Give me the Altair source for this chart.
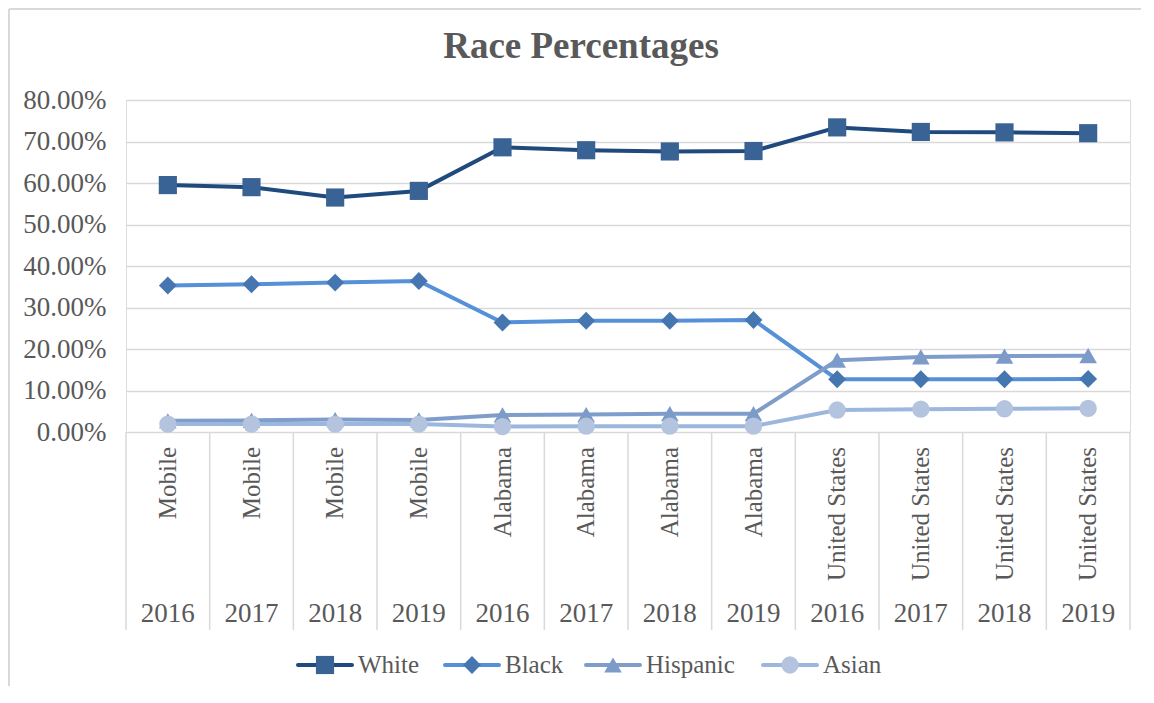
import altair as alt
import pandas as pd

# ---- data ----
locations = ["Mobile"] * 4 + ["Alabama"] * 4 + ["United States"] * 4
years = ["2016", "2017", "2018", "2019"] * 3
series_names = ["White", "Black", "Hispanic", "Asian"]
white = [59.5, 59.0, 56.5, 58.1, 68.6, 67.9, 67.6, 67.7, 73.4, 72.3, 72.2, 72.0]
black = [35.3, 35.6, 36.0, 36.4, 26.4, 26.8, 26.8, 27.0, 12.7, 12.7, 12.7, 12.8]
hispanic = [2.7, 2.8, 3.0, 2.9, 4.1, 4.2, 4.4, 4.4, 17.3, 18.1, 18.3, 18.4]
asian = [1.9, 1.9, 1.9, 1.9, 1.3, 1.4, 1.4, 1.4, 5.3, 5.5, 5.6, 5.7]
y_ticks = [0, 0.1, 0.2, 0.3, 0.4, 0.5, 0.6, 0.7, 0.8]

# ---- styles ----
FONT = "Liberation Serif"
TEXT = "#595959"
GRID = "#D9D9D9"
line_colors = ["#1F4A7E", "#5590D8", "#7F9DCA", "#9BB7DD"]
marker_colors = ["#3A6395", "#4676B0", "#7D9BC9", "#B4C4DF"]
shapes = ["square", "diamond", "triangle-up", "circle"]
sizes = [330, 300, 330, 300]

W, H = 1004, 332
PAD = {"left": 118, "top": 92, "right": 12, "bottom": 255}
n = len(locations)

rows = []
for name, vals in zip(series_names, [white, black, hispanic, asian]):
    for i, v in enumerate(vals):
        rows.append({"series": name, "pos": i + 0.5, "value": v / 100.0,
                     "loc": locations[i], "year": years[i]})
df = pd.DataFrame(rows)
cats = pd.DataFrame({"pos": [i + 0.5 for i in range(n)], "loc": locations, "year": years})
bounds = pd.DataFrame({"b": list(range(n + 1))})

xs = alt.Scale(domain=[0, n], nice=False, zero=False)
ys = alt.Scale(domain=[0, 0.8], nice=False)

base = alt.Chart(df)

lines = base.mark_line(strokeWidth=4, strokeCap="round", strokeJoin="round").encode(
    x=alt.X("pos:Q", scale=xs, axis=None),
    y=alt.Y("value:Q", scale=ys,
            axis=alt.Axis(values=y_ticks, format=".2%", title=None, domain=False,
                          ticks=False, labelPadding=20, gridColor=GRID, gridWidth=1.5,
                          labelFont=FONT, labelFontSize=27, labelColor=TEXT)),
    color=alt.Color("series:N", scale=alt.Scale(domain=series_names, range=line_colors), legend=None),
    detail="series:N",
)

points = base.mark_point(filled=True, opacity=1, strokeWidth=0).encode(
    x=alt.X("pos:Q", scale=xs, axis=None),
    y=alt.Y("value:Q", scale=ys),
    fill=alt.Fill("series:N", scale=alt.Scale(domain=series_names, range=marker_colors), legend=None),
    shape=alt.Shape("series:N", scale=alt.Scale(domain=series_names, range=shapes), legend=None),
    size=alt.Size("series:N", scale=alt.Scale(domain=series_names, range=sizes), legend=None),
)

seps = alt.Chart(bounds).mark_rule(color=GRID, strokeWidth=1.5).encode(
    x=alt.X("b:Q", scale=xs, axis=None),
    y=alt.value(H),
    y2=alt.value(H + 198),
)

loc_text = alt.Chart(cats).mark_text(angle=270, align="right", baseline="middle",
                                     font=FONT, fontSize=25, color=TEXT).encode(
    x=alt.X("pos:Q", scale=xs, axis=None),
    y=alt.value(H + 15),
    text="loc:N",
)

year_text = alt.Chart(cats).mark_text(align="center", baseline="middle",
                                      font=FONT, fontSize=27, color=TEXT).encode(
    x=alt.X("pos:Q", scale=xs, axis=None),
    y=alt.value(H + 182),
    text="year:N",
)

title = alt.Chart(pd.DataFrame({"t": ["Race Percentages"]})).mark_text(
    align="center", baseline="middle", font=FONT, fontSize=37, fontWeight="bold", color=TEXT
).encode(x=alt.value(455), y=alt.value(-53), text="t:N")

# legend (manual, Excel style: line with marker)
leg_centers = [325, 472, 613, 790]
leg = pd.DataFrame({"series": series_names,
                    "cx": [c - 126 for c in leg_centers]})
leg["x1"] = leg["cx"] - 27
leg["x2"] = leg["cx"] + 27
leg["tx"] = leg["cx"] + 33
LY = 565

leg_lines = alt.Chart(leg).mark_rule(strokeWidth=4, strokeCap="round").encode(
    x=alt.X("x1:Q", scale=None), x2="x2:Q", y=alt.value(LY),
    color=alt.Color("series:N", scale=alt.Scale(domain=series_names, range=line_colors), legend=None),
)
leg_pts = alt.Chart(leg).mark_point(filled=True, opacity=1, strokeWidth=0).encode(
    x=alt.X("cx:Q", scale=None), y=alt.value(LY),
    fill=alt.Fill("series:N", scale=alt.Scale(domain=series_names, range=marker_colors), legend=None),
    shape=alt.Shape("series:N", scale=alt.Scale(domain=series_names, range=shapes), legend=None),
    size=alt.Size("series:N", scale=alt.Scale(domain=series_names, range=sizes), legend=None),
)
leg_text = alt.Chart(leg).mark_text(align="left", baseline="middle", font=FONT,
                                    fontSize=25, color=TEXT).encode(
    x=alt.X("tx:Q", scale=None), y=alt.value(LY), text="series:N",
)

# chart-area border: only top and left edges are visible in the frame
right_edge = W + PAD["right"] - 1
bottom_edge = H + PAD["bottom"] - 1
border_top = alt.Chart(pd.DataFrame({"a": [0]})).mark_rule(color=GRID, strokeWidth=2).encode(
    x=alt.value(-117), x2=alt.value(right_edge), y=alt.value(-91))
border_left = alt.Chart(pd.DataFrame({"a": [0]})).mark_rule(color=GRID, strokeWidth=2).encode(
    x=alt.value(-117), y=alt.value(-91), y2=alt.value(bottom_edge))

chart = alt.layer(
    border_top, border_left, seps, lines, points, loc_text, year_text, title,
    leg_lines, leg_pts, leg_text
).resolve_scale(
    color="independent", fill="independent", shape="independent", size="independent"
).properties(
    width=W, height=H,
    autosize=alt.AutoSizeParams(type="none"),
    padding=PAD,
).configure_view(stroke=None).configure(background="white")

chart.save("out.html", embed_options={"renderer": "svg", "actions": False})
